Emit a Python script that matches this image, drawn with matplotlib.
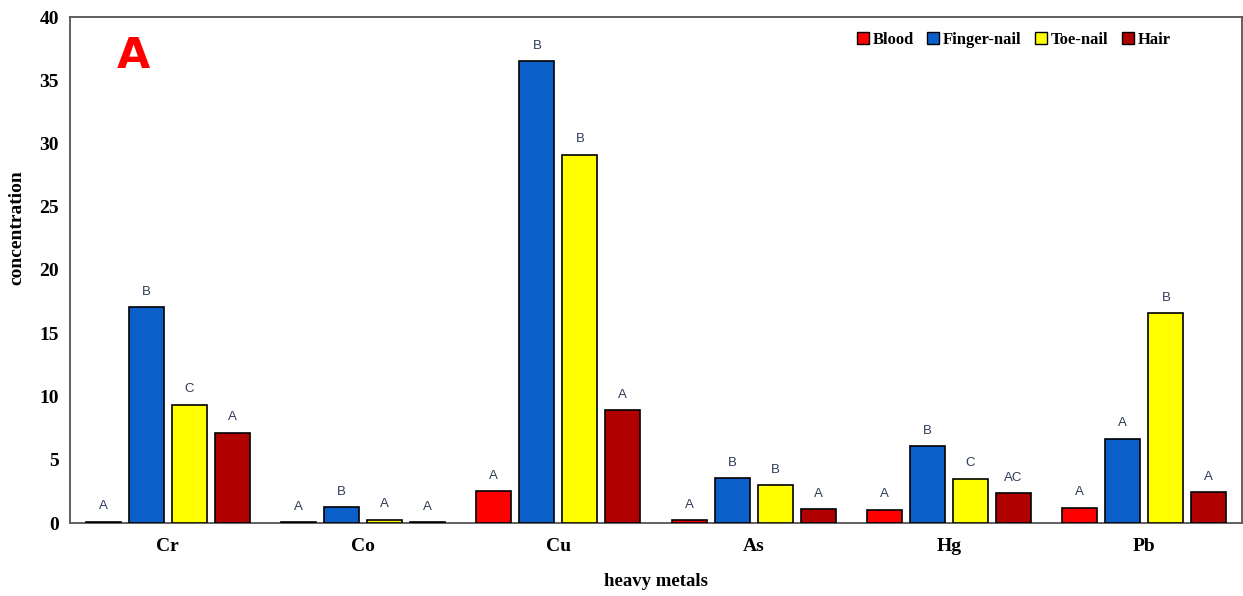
import matplotlib
matplotlib.use("Agg")
import matplotlib.pyplot as plt
import numpy as np
from matplotlib.patches import Patch

metals = ["Cr", "Co", "Cu", "As", "Hg", "Pb"]
series_names = ["Blood", "Finger-nail", "Toe-nail", "Hair"]
blood = [0.1, 0.05, 2.5, 0.2, 1.05, 1.2]
finger_nail = [17.05, 1.24, 36.5, 3.52, 6.05, 6.65]
toe_nail = [9.35, 0.27, 29.1, 3.0, 3.48, 16.6]
hair = [7.15, 0.06, 8.9, 1.1, 2.35, 2.42]
letters_blood = ["A", "A", "A", "A", "A", "A"]
letters_finger = ["B", "B", "B", "B", "B", "A"]
letters_toe = ["C", "A", "B", "B", "C", "B"]
letters_hair = ["A", "A", "A", "A", "AC", "A"]
yticks = [0, 5, 10, 15, 20, 25, 30, 35, 40]

colors = ["#FF0000", "#0A5FC8", "#FFFF00", "#B00000"]
series = [blood, finger_nail, toe_nail, hair]
letters = [letters_blood, letters_finger, letters_toe, letters_hair]

fig = plt.figure(figsize=(12.43, 5.96), dpi=100)
ax = fig.add_axes([70 / 1243, 1 - 523 / 596, 1172 / 1243, (523 - 17) / 596])

x = np.arange(len(metals))
step = 0.22
width = 0.18
serif = "Liberation Serif"
for i, (vals, col, labs) in enumerate(zip(series, colors, letters)):
    pos = x + (i - 1.5) * step
    ax.bar(pos, vals, width=width, color=col, edgecolor="black", linewidth=1.2, zorder=3)
    for p, v, l in zip(pos, vals, labs):
        ax.text(p, v + 0.75, l, ha="center", va="bottom", fontsize=9.5,
                color="#2E3A58", family="Liberation Sans")

ax.set_xlim(-0.5, len(metals) - 0.5)
ax.set_ylim(0, 40)
ax.set_yticks(yticks)
ax.set_yticklabels([str(t) for t in yticks], fontsize=14, family=serif, fontweight="bold")
ax.set_xticks(x)
ax.set_xticklabels(metals, fontsize=14, family=serif, fontweight="bold")
ax.tick_params(axis="both", length=0, pad=8)
ax.tick_params(axis="x", pad=11)
for s in ax.spines.values():
    s.set_color("#555555")
    s.set_linewidth(1.3)

fig.text(17 / 1243, 1 - 228 / 596, "concentration", rotation=90, ha="center", va="center",
         fontsize=14, family=serif, fontweight="bold")
ax.set_xlabel("heavy metals", fontsize=13.5, family=serif, fontweight="bold", labelpad=13)

fig.text(133 / 1243, 1 - 56 / 596, "A", ha="center", va="center",
         fontsize=31, fontweight="bold", color="#FF0000", family="DejaVu Sans")

handles = [Patch(facecolor=c, edgecolor="black", linewidth=1) for c in colors]
leg = ax.legend(handles, series_names, loc="upper right", bbox_to_anchor=(0.952, 1.0),
                ncol=4, frameon=False, handlelength=0.7, handleheight=0.7,
                handletextpad=0.25, columnspacing=0.8,
                prop={"family": serif, "size": 12, "weight": "bold"})

fig.savefig("out.png", dpi=100, facecolor="white")
